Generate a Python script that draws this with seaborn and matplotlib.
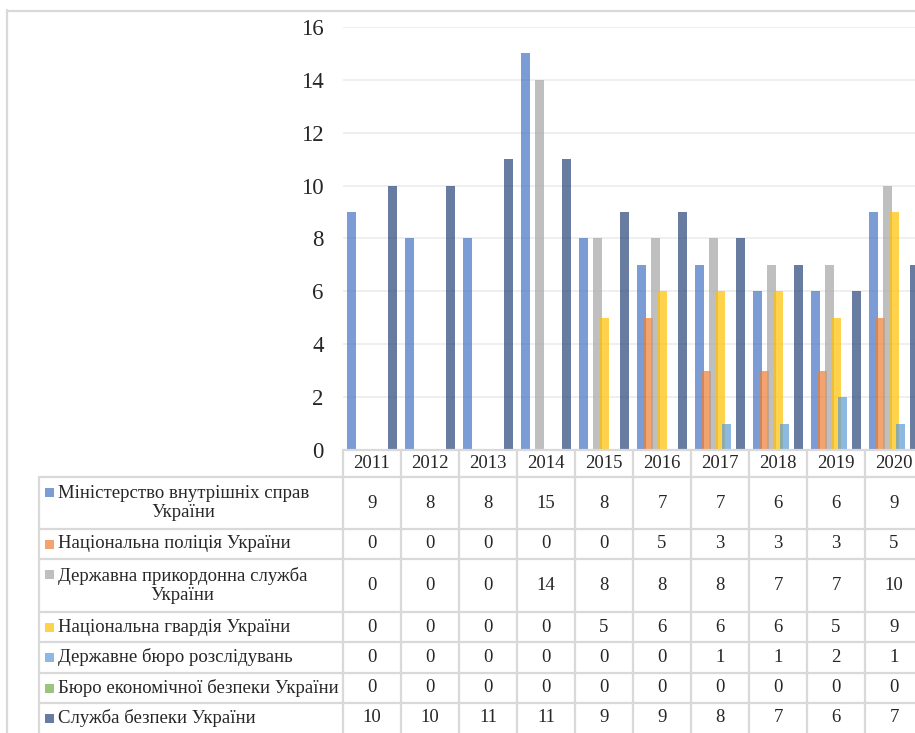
import pandas as pd
import matplotlib
matplotlib.use("Agg")
import matplotlib.pyplot as plt
from matplotlib.lines import Line2D
from matplotlib.patches import Rectangle
import seaborn as sns

sns.set_style("white")
plt.rcParams['font.family'] = ['Liberation Serif', 'DejaVu Serif']

years = ['2011', '2012', '2013', '2014', '2015', '2016', '2017', '2018', '2019', '2020']
orgs = [
    'Міністерство внутрішніх справ\nУкраїни',
    'Національна поліція України',
    'Державна прикордонна служба\nУкраїни',
    'Національна гвардія України',
    'Державне бюро розслідувань',
    'Бюро економічної безпеки України',
    'Служба безпеки України',
]
mvs = [9, 8, 8, 15, 8, 7, 7, 6, 6, 9]
police = [0, 0, 0, 0, 0, 5, 3, 3, 3, 5]
border = [0, 0, 0, 14, 8, 8, 8, 7, 7, 10]
guard = [0, 0, 0, 0, 5, 6, 6, 6, 5, 9]
dbr = [0, 0, 0, 0, 0, 0, 1, 1, 2, 1]
beb = [0, 0, 0, 0, 0, 0, 0, 0, 0, 0]
sbu = [10, 10, 11, 11, 9, 9, 8, 7, 6, 7]
series = [mvs, police, border, guard, dbr, beb, sbu]
colors = ['#4472C4', '#ED7D31', '#A5A5A5', '#FFC000', '#5B9BD5', '#70AD47', '#264478']

rows = []
for org, vals in zip(orgs, series):
    for y, v in zip(years, vals):
        rows.append({'year': y, 'org': org, 'value': v})
df = pd.DataFrame(rows)

W, H = 915, 733
fig = plt.figure(figsize=(W / 100, H / 100), dpi=100)


def fx(px):
    return px / W


def fy(py):
    return 1 - py / H


# plot area: x from 343 px, 58 px per year (runs past the right edge), y 0 at 450, 16 at 27
col_w = 58
left = 343
ax = fig.add_axes([fx(left), fy(450), col_w * 10 / W, (450 - 27) / H])
sns.barplot(data=df, x='year', y='value', hue='org', order=years, hue_order=orgs,
            palette=colors, width=0.824, alpha=0.7, saturation=1, legend=False, ax=ax)

# Excel-style slight overlap between neighbouring bars
bw = 9 / col_w
for p in ax.patches:
    c = p.get_x() + p.get_width() / 2
    p.set_width(bw)
    p.set_x(c - bw / 2)
    p.set_linewidth(0)

ax.set_xlim(-0.5, 9.5)
ax.set_ylim(0, 16)
ax.set_yticks(range(0, 17, 2))
ax.set_xticks([])
ax.set_xlabel('')
ax.set_ylabel('')
ax.tick_params(axis='y', length=0, pad=14, labelsize=16.5)
ax.yaxis.grid(True, color='#EFEFEF', linewidth=1.4)
ax.set_axisbelow(True)
for s in ax.spines.values():
    s.set_visible(False)
ax.patch.set_alpha(0)

# outer chart border
line_c = '#D9D9D9'
fig.add_artist(Line2D([fx(7), fx(7)], [fy(10), fy(740)], color=line_c, lw=1.6))
fig.add_artist(Line2D([fx(7), fx(920)], [fy(10.5), fy(10.5)], color=line_c, lw=1.6))

# data table
row_edges = [477, 529, 559, 612, 642, 673, 703, 740]
fig.add_artist(Line2D([fx(left), fx(920)], [fy(450), fy(450)], color=line_c, lw=1.6))
for y in row_edges[:-1]:
    fig.add_artist(Line2D([fx(39), fx(920)], [fy(y), fy(y)], color=line_c, lw=1.6))
fig.add_artist(Line2D([fx(39), fx(39)], [fy(477), fy(740)], color=line_c, lw=1.6))
for k in range(11):
    x = left + col_w * k
    fig.add_artist(Line2D([fx(x), fx(x)], [fy(450), fy(740)], color=line_c, lw=1.6))

fs = 13.5
for k, y in enumerate(years):
    fig.text(fx(left + col_w * k + col_w / 2), fy(464), y, ha='center', va='center', fontsize=fs)

for i, (org, vals, col) in enumerate(zip(orgs, series, colors)):
    top, bot = row_edges[i], min(row_edges[i + 1], 733)
    yc = (top + bot) / 2 if i < 6 else 718
    two = '\n' in org
    key_y = yc - 11 if two else yc
    fig.add_artist(Rectangle((fx(45), fy(key_y + 4.5)), 9 / W, 9 / H, color=col, alpha=0.7,
                             linewidth=0))
    fig.text(fx(58), fy(yc), org, ha='left', va='center', multialignment='center',
             fontsize=fs, linespacing=1.2)
    for k, v in enumerate(vals):
        fig.text(fx(left + col_w * k + col_w / 2), fy(yc), str(v), ha='center', va='center',
                 fontsize=fs)

fig.savefig('out.png', dpi=100)
